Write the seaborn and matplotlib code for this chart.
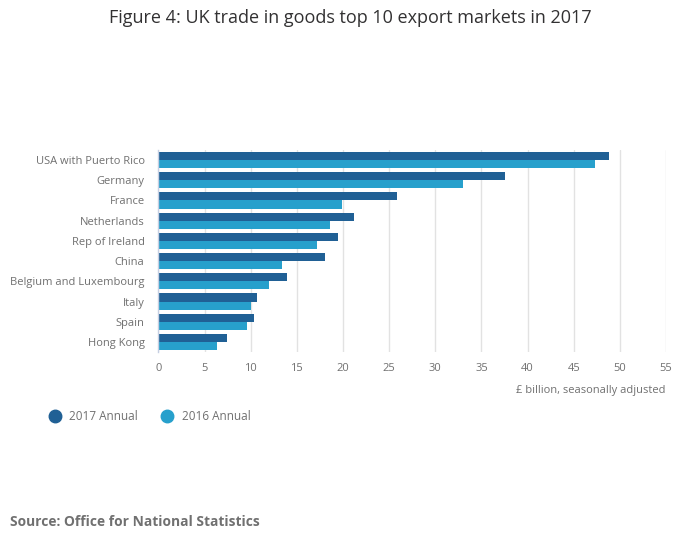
import pandas as pd
import numpy as np
import matplotlib
matplotlib.use("Agg")
import matplotlib.pyplot as plt
from matplotlib.lines import Line2D
import seaborn as sns

# data
countries = ["USA with Puerto Rico", "Germany", "France", "Netherlands", "Rep of Ireland",
             "China", "Belgium and Luxembourg", "Italy", "Spain", "Hong Kong"]
annual_2017 = [48.8, 37.6, 25.8, 21.2, 19.5, 18.1, 13.9, 10.7, 10.3, 7.4]
annual_2016 = [47.3, 33.0, 19.9, 18.6, 17.2, 13.4, 12.0, 10.0, 9.6, 6.3]
series = ["2017 Annual", "2016 Annual"]
xticks = [0, 5, 10, 15, 20, 25, 30, 35, 40, 45, 50, 55]

DARK = "#206095"
LIGHT = "#27a0cc"
GREY = "#707070"

df = pd.DataFrame({
    "country": countries * 2,
    "value": annual_2017 + annual_2016,
    "series": [series[0]] * len(countries) + [series[1]] * len(countries),
})

sns.set_style("white")
plt.rcParams["font.family"] = ["Open Sans", "DejaVu Sans"]

fig = plt.figure(figsize=(7, 5.49), dpi=100)
ax = fig.add_axes([0.2264, 0.3588, 0.7250, 0.3680])

sns.barplot(data=df, y="country", x="value", hue="series", orient="h",
            palette=[DARK, LIGHT], width=0.8, saturation=1, linewidth=0,
            ax=ax, legend=False)

ax.set_xlim(0, 55)
ax.set_xticks(xticks)
ax.set_xticklabels([str(t) for t in xticks])
ax.set_ylim(len(countries) - 0.5, -0.5)
ax.grid(axis="x", color="#e2e2e2", linewidth=1)
ax.set_axisbelow(True)

for side in ["top", "right", "bottom"]:
    ax.spines[side].set_visible(False)
ax.spines["left"].set_color("#c6cfe2")
ax.spines["left"].set_linewidth(1)

ax.tick_params(axis="x", length=0, labelsize=8, colors=GREY, pad=8)
ax.tick_params(axis="y", which="major", length=0, labelsize=8, colors=GREY, pad=10)
ax.set_yticks(np.arange(-0.5, len(countries), 1), minor=True)
ax.tick_params(axis="y", which="minor", length=9, color="#c6cfe2", width=1)

ax.set_xlabel("£ billion, seasonally adjusted", fontsize=8, color=GREY)
ax.xaxis.set_label_coords(1.0, -0.165)
ax.xaxis.label.set_horizontalalignment("right")
ax.set_ylabel("")

fig.text(0.5, 0.967, "Figure 4: UK trade in goods top 10 export markets in 2017",
         ha="center", va="center", fontsize=13, color="#323132")

handles = [Line2D([], [], marker="o", linestyle="", markersize=9,
                  markerfacecolor=c, markeredgecolor=c) for c in [DARK, LIGHT]]
fig.legend(handles, series, loc="center left", bbox_to_anchor=(0.055, 0.242),
           ncol=2, frameon=False, fontsize=8.5, labelcolor=GREY,
           handletextpad=0.7, columnspacing=2.0, handlelength=1.0)

fig.text(0.014, 0.049, "Source: Office for National Statistics",
         ha="left", va="center", fontsize=9.9, fontweight="bold", color=GREY)

plt.savefig("out.png", dpi=100)
plt.close()
